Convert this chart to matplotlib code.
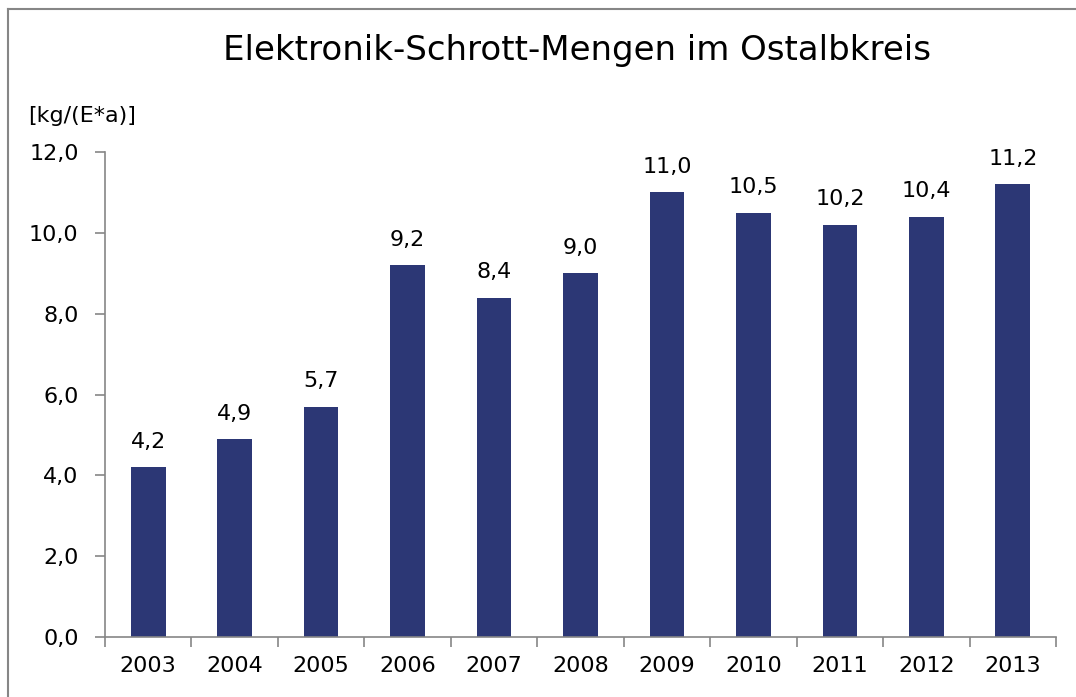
import numpy as np
import matplotlib.pyplot as plt
from matplotlib.lines import Line2D

years = ['2003', '2004', '2005', '2006', '2007', '2008', '2009', '2010', '2011', '2012', '2013']
values = [4.2, 4.9, 5.7, 9.2, 8.4, 9.0, 11.0, 10.5, 10.2, 10.4, 11.2]
y_ticks = [0, 2, 4, 6, 8, 10, 12]

BAR_COLOR = '#2C3775'
AXIS_COLOR = '#868686'

plt.rcParams['font.family'] = ['DejaVu Sans']

fig = plt.figure(figsize=(10.76, 6.97), dpi=100)
ax = fig.add_axes([0.0976, 0.0861, 0.8838, 0.6958])

x = np.arange(len(years))
ax.bar(x, values, width=0.4, color=BAR_COLOR)
for xi, v in zip(x, values):
    ax.text(xi, v + 0.38, f'{v:.1f}'.replace('.', ','), ha='center', va='bottom', fontsize=16)

ax.set_xlim(-0.5, len(years) - 0.5)
ax.set_ylim(0, 12)
ax.set_yticks(y_ticks)
ax.set_yticklabels([f'{t:.1f}'.replace('.', ',') for t in y_ticks], fontsize=16)
ax.set_xticks(np.arange(len(years) + 1) - 0.5, minor=False)
ax.set_xticklabels([])
ax.set_xticks(x, minor=True)
ax.set_xticklabels(years, minor=True, fontsize=16)
ax.tick_params(axis='x', which='minor', length=0, pad=14)
ax.tick_params(axis='x', which='major', length=7, color=AXIS_COLOR, width=1.2)
ax.tick_params(axis='y', length=7, color=AXIS_COLOR, width=1.2, pad=12)

for side in ['top', 'right']:
    ax.spines[side].set_visible(False)
for side in ['left', 'bottom']:
    ax.spines[side].set_color(AXIS_COLOR)
    ax.spines[side].set_linewidth(1.2)

fig.text(0.536, 0.928, 'Elektronik-Schrott-Mengen im Ostalbkreis', ha='center', va='center', fontsize=24.5)
fig.text(0.026, 0.834, '[kg/(E*a)]', ha='left', va='center', fontsize=16)

# outer frame, left and top edges
fig.add_artist(Line2D([0.0075, 0.0075], [0, 0.987], transform=fig.transFigure, color=AXIS_COLOR, lw=1.5))
fig.add_artist(Line2D([0.0075, 1.0], [0.987, 0.987], transform=fig.transFigure, color=AXIS_COLOR, lw=1.5))

plt.savefig('out.png', dpi=100)
